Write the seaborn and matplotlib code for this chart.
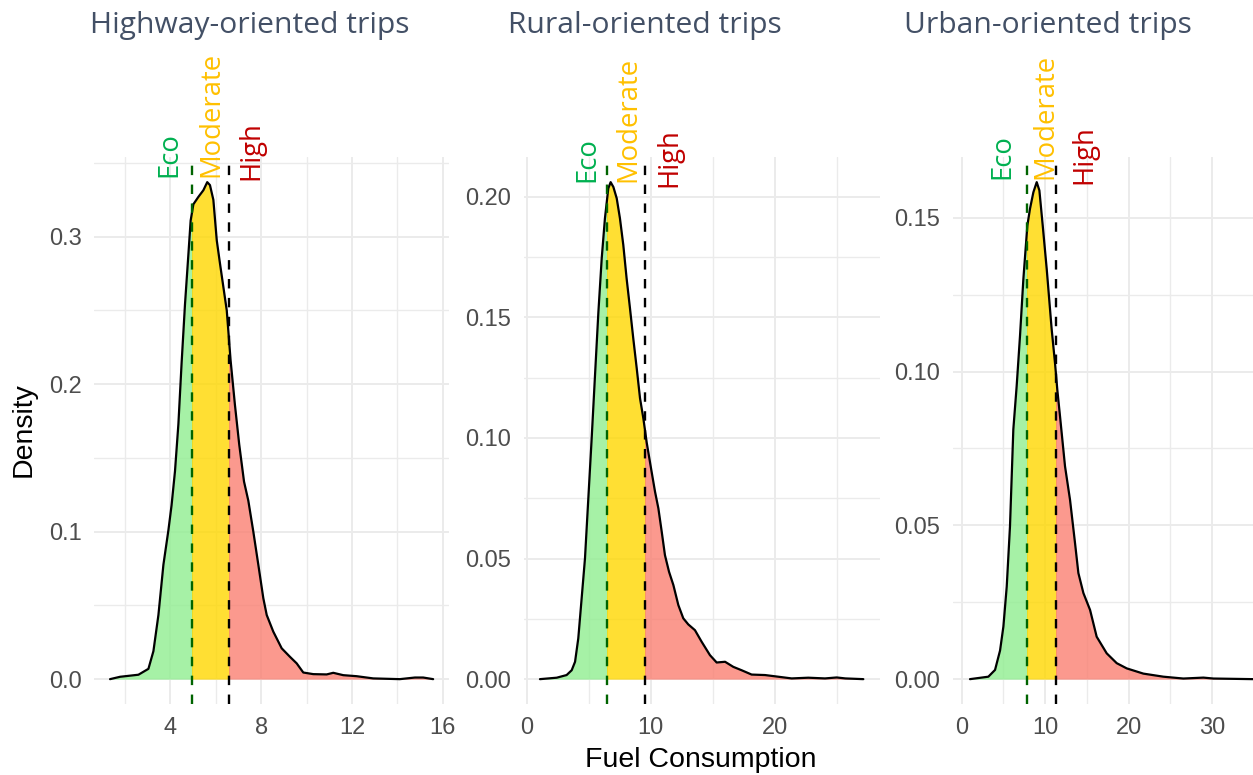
import numpy as np
import matplotlib
matplotlib.use("Agg")
import matplotlib.pyplot as plt
import seaborn as sns
from matplotlib.patches import Rectangle
from matplotlib.ticker import FixedLocator, MultipleLocator, FormatStrFormatter

# ---------------- data ----------------
titles = ["Highway-oriented trips", "Rural-oriented trips", "Urban-oriented trips"]

hw_x = [1.34, 1.78, 2.59, 3.03, 3.25, 3.47, 3.69, 3.91, 4.05, 4.20, 4.35, 4.49, 4.64,
        4.79, 4.89, 5.01, 5.23, 5.45, 5.62, 5.74, 5.89, 6.04, 6.18, 6.33, 6.48, 6.65,
        6.84, 7.03, 7.24, 7.43, 7.65, 7.87, 8.09, 8.24, 8.53, 8.90, 9.26, 9.56, 9.85,
        10.29, 10.88, 11.17, 11.61, 12.2, 12.93, 14.1, 14.77, 15.13, 15.57]
hw_d = [0, 0.0016, 0.003, 0.007, 0.019, 0.0435, 0.0776, 0.101, 0.118, 0.141, 0.173,
        0.214, 0.254, 0.288, 0.311, 0.322, 0.327, 0.3315, 0.337, 0.335, 0.325, 0.2975,
        0.282, 0.266, 0.250, 0.216, 0.186, 0.159, 0.134, 0.121, 0.100, 0.0776, 0.0549,
        0.0435, 0.0322, 0.0209, 0.0152, 0.0107, 0.0045, 0.0034, 0.0032, 0.0043, 0.0027,
        0.002, 0.0005, 0, 0.0011, 0.0011, 0]

ru_x = [1.07, 2.42, 3.22, 3.63, 3.90, 4.16, 4.43, 4.70, 4.97, 5.24, 5.51, 5.78, 6.05,
        6.31, 6.58, 6.77, 6.99, 7.26, 7.52, 7.79, 8.06, 8.33, 8.60, 8.87, 9.14, 9.41,
        9.68, 10.03, 10.35, 10.62, 10.89, 11.15, 11.48, 11.83, 12.23, 12.63, 13.03,
        13.57, 14.11, 14.78, 15.32, 16.0, 16.66, 17.33, 18.14, 19.22, 20.3, 21.37,
        22.71, 24.06, 25.0, 25.7, 27.15]
ru_d = [0, 0.0006, 0.0017, 0.0037, 0.0072, 0.0169, 0.0334, 0.050, 0.0749, 0.0998,
        0.126, 0.152, 0.1744, 0.191, 0.2034, 0.206, 0.204, 0.1993, 0.191, 0.180, 0.166,
        0.1537, 0.141, 0.129, 0.1164, 0.108, 0.098, 0.0873, 0.0777, 0.0708, 0.0611,
        0.0514, 0.0445, 0.039, 0.0307, 0.0252, 0.0227, 0.0203, 0.0155, 0.00995, 0.0069,
        0.0072, 0.0051, 0.0037, 0.0019, 0.0017, 0.001, 0.0003, 0.0006, 0.0003, 0.0007,
        0.0003, 0]

ur_x = [0.99, 3.19, 3.99, 4.59, 4.99, 5.39, 5.78, 6.18, 6.58, 6.98, 7.38, 7.86, 8.18,
        8.58, 8.98, 9.30, 9.70, 10.18, 10.77, 11.17, 11.45, 11.77, 12.37, 12.97, 13.57,
        13.97, 14.57, 15.37, 16.16, 17.36, 18.56, 19.76, 21.75, 24.15, 26.54, 28.94,
        30.14, 34.9]
ur_d = [0, 0.0008, 0.003, 0.0093, 0.0171, 0.0301, 0.0497, 0.0812, 0.0953, 0.1116,
        0.130, 0.1475, 0.153, 0.1583, 0.1616, 0.1589, 0.1475, 0.1333, 0.1138, 0.1028,
        0.094, 0.0855, 0.0692, 0.0583, 0.0442, 0.0345, 0.028, 0.0225, 0.0138, 0.0084,
        0.0052, 0.0035, 0.0018, 0.0008, 0.0002, 0.0005, 0.0002, 0]

eco_thr = [4.96, 6.48, 7.86]
high_thr = [6.57, 9.54, 11.29]
band_labels = ["Eco", "Moderate", "High"]

x_major = [[4, 8, 12, 16], [0, 10, 20], [0, 10, 20, 30]]
y_major = [[0.0, 0.1, 0.2, 0.3], [0.0, 0.05, 0.10, 0.15, 0.20], [0.0, 0.05, 0.10, 0.15]]

# ---------------- style ----------------
sns.set_theme(style="white")
plt.rcParams['font.family'] = ['Liberation Sans', 'DejaVu Sans']

W, H = 1253, 775
fig = plt.figure(figsize=(W / 100, H / 100), dpi=100)
fig.patch.set_facecolor("white")

panel_px = [(93.9, 449.3), (523.8, 879.5), (952.7, 1253.0)]
top_px, bot_px = 157.3, 704.0
x_minor_step = [2, 5, 5]
y_minor_step = [0.05, 0.025, 0.025]
y_fmt = ["%.1f", "%.2f", "%.2f"]
panel3_xlim = (-1.08, 34.88)

fill_cols = ["lightgreen", "gold", "salmon"]
lab_cols = ["#00B050", "#FFC000", "#C00000"]
# label baseline offsets (px) relative to threshold lines, and start below axes top (px)
lab_dx = [(-15.7, 25.8, 29.2), (-12.6, 27.9, 31.0), (-17.8, 24.7, 35.0)]
lab_dy = [(20, 20, 23), (25, 25, 30), (22, 22, 27)]
title_x = [90.5, 507.5, 904.0]
grid_col = "#EBEBEB"

series = [(hw_x, hw_d), (ru_x, ru_d), (ur_x, ur_d)]
px2pt = 0.72

for i, (xs, ds) in enumerate(series):
    l, r = panel_px[i]
    ax = fig.add_axes([l / W, 1 - bot_px / H, (r - l) / W, (bot_px - top_px) / H])
    ax.set_facecolor("white")
    xs = np.asarray(xs, float)
    ds = np.asarray(ds, float)
    xmin, xmax = xs.min(), xs.max()
    rng = xmax - xmin
    dmax = ds.max()
    if i == 2:
        ax.set_xlim(*panel3_xlim)
    else:
        ax.set_xlim(xmin - 0.05 * rng, xmax + 0.05 * rng)
    ax.set_ylim(-0.05 * dmax, 1.05 * dmax)

    bounds = [(xmin - 5, eco_thr[i]), (eco_thr[i], high_thr[i]), (high_thr[i], xmax + 5)]
    for (lo, hi), col in zip(bounds, fill_cols):
        poly = ax.fill_between(xs, ds, 0, color=col, alpha=0.8, linewidth=0, zorder=1)
        clip = Rectangle((lo, -1), hi - lo, 2, transform=ax.transData)
        poly.set_clip_path(clip)

    sns.lineplot(x=xs, y=ds, ax=ax, color="black", linewidth=1.6,
                 estimator=None, sort=False, zorder=3)

    ax.axvline(eco_thr[i], color="#006400", linestyle=(0, (4, 4)), linewidth=1.7, zorder=4)
    ax.axvline(high_thr[i], color="black", linestyle=(0, (4, 4)), linewidth=1.7, zorder=4)

    ax.xaxis.set_major_locator(FixedLocator(x_major[i]))
    ax.yaxis.set_major_locator(FixedLocator(y_major[i]))
    ax.xaxis.set_minor_locator(MultipleLocator(x_minor_step[i]))
    ax.yaxis.set_minor_locator(MultipleLocator(y_minor_step[i]))
    ax.yaxis.set_major_formatter(FormatStrFormatter(y_fmt[i]))
    ax.grid(which="major", color=grid_col, linewidth=1.4, zorder=0)
    ax.grid(which="minor", color=grid_col, linewidth=1.0, zorder=0)
    ax.set_axisbelow(True)
    for s in ax.spines.values():
        s.set_visible(False)
    ax.tick_params(which="both", length=0)
    ax.tick_params(which="major", labelsize=17, labelcolor="#4D4D4D", pad=9)
    ax.set_xlabel("")
    ax.set_ylabel("")

    thr_for = [eco_thr[i], eco_thr[i], high_thr[i]]
    for k, txt in enumerate(band_labels):
        ax.annotate(txt, xy=(thr_for[k], 1), xycoords=("data", "axes fraction"),
                    xytext=(lab_dx[i][k] * px2pt, -lab_dy[i][k] * px2pt),
                    textcoords="offset points", rotation=90, rotation_mode="anchor",
                    ha="left", va="baseline", color=lab_cols[k], fontsize=19.8,
                    family=["Open Sans", "DejaVu Sans"], annotation_clip=False, zorder=5)

    fig.text(title_x[i] / W, 1 - 33 / H, titles[i], ha="left", va="baseline",
             fontsize=21.6, color="#435066", family=["Open Sans", "DejaVu Sans"])

fig.text(701 / W, 1 - 767 / H, "Fuel Consumption", ha="center", va="baseline",
         fontsize=20.5, color="black")
fig.text(31 / W, 1 - 430 / H, "Density", ha="center", va="baseline", rotation=90,
         rotation_mode="anchor", fontsize=20.5, color="black")

fig.savefig("out.png", dpi=100, facecolor="white")
